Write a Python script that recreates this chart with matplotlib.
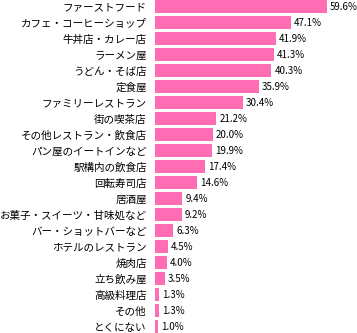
import matplotlib
matplotlib.use('Agg')
import matplotlib.pyplot as plt

plt.rcParams['font.family'] = ['Noto Sans CJK JP', 'DejaVu Sans']

# data
categories = ['ファーストフード', 'カフェ・コーヒーショップ', '牛丼店・カレー店', 'ラーメン屋',
              'うどん・そば店', '定食屋', 'ファミリーレストラン', '街の喫茶店',
              'その他レストラン・飲食店', 'パン屋のイートインなど', '駅構内の飲食店',
              '回転寿司店', '居酒屋', 'お菓子・スイーツ・甘味処など', 'バー・ショットバーなど',
              'ホテルのレストラン', '焼肉店', '立ち飲み屋', '高級料理店', 'その他', 'とくにない']
values = [59.6, 47.1, 41.9, 41.3, 40.3, 35.9, 30.4, 21.2, 20.0, 19.9, 17.4,
          14.6, 9.4, 9.2, 6.3, 4.5, 4.0, 3.5, 1.3, 1.3, 1.0]

fig = plt.figure(figsize=(3.57, 3.33), dpi=100)
ax = fig.add_axes([155 / 357, 0, 202 / 357, 1])

y = list(range(len(categories)))
bh = 13 / 16
ax.barh(y, values, height=bh, color='#ff6eb4')

ax.set_xlim(0, 70)
ax.set_ylim(len(categories) - 1 + bh / 2, -bh / 2)

ax.set_yticks(y)
ax.set_yticklabels(categories, fontsize=7.6)
ax.tick_params(axis='y', length=0, pad=6)
ax.set_xticks([])
for s in ax.spines.values():
    s.set_visible(False)

for yi, v in zip(y, values):
    ax.annotate(f'{v:.1f}%', (v, yi), xytext=(3, 0), textcoords='offset pixels',
                va='center', ha='left', fontsize=7)

fig.savefig('out.png', dpi=100)
